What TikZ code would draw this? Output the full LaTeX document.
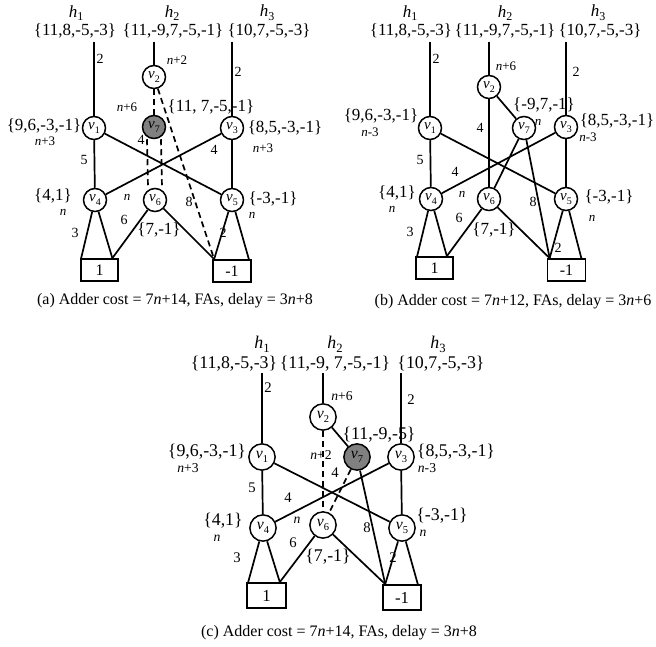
\documentclass[tikz,border=0pt]{standalone}
\usepackage{fontspec}
\setmainfont{Liberation Serif}
\definecolor{vgray}{RGB}{128,128,128}
\newcommand\vsub[1]{\textit{v}\raisebox{-0.22em}{\fontsize{10}{10}\selectfont #1}}
\newcommand\hsub[1]{\textit{h}\raisebox{-0.22em}{\fontsize{12}{12}\selectfont #1}}
\newcommand\nn{\textit{n}}
\tikzset{
 vnode/.style={circle, draw, line width=1.5pt, minimum size=23pt, inner sep=0pt, fill=white, font=\fontsize{15}{15}\selectfont},
 gnode/.style={vnode, fill=vgray},
 termbox/.style={rectangle, draw, line width=1.7pt, minimum width=37pt, minimum height=22pt, inner sep=0pt, font=\fontsize{16}{16}\selectfont},
 ln/.style={line width=1.7pt},
 dl/.style={line width=1.7pt, dash pattern=on 6pt off 4pt},
 setl/.style={inner sep=0pt, font=\fontsize{17}{17}\selectfont},
 hl/.style={inner sep=0pt, font=\fontsize{17}{17}\selectfont},
 num/.style={inner sep=0pt, font=\fontsize{14}{14}\selectfont},
 nl/.style={inner sep=0pt, font=\fontsize{13}{13}\selectfont},
 capt/.style={inner sep=0pt, font=\fontsize{16}{16}\selectfont},
}
\begin{document}
\begin{tikzpicture}[x=1pt,y=-1pt]
\useasboundingbox (0,0) rectangle (656,647);

% ================= panel (a) =================
\node[hl] (a-h1) at (76,13) {\hsub{1}};
\node[hl] (a-h2) at (172,13) {\hsub{2}};
\node[hl] (a-h3) at (267,13) {\hsub{3}};
\node[setl] (a-s1) at (75,31) {\{11,8,-5,-3\}};
\node[setl] (a-s2) at (173,31) {\{11,-9,7,-5,-1\}};
\node[setl] (a-s3) at (269,31) {\{10,7,-5,-3\}};
\coordinate (a-t1) at (94,42);
\coordinate (a-t2) at (154,42);
\coordinate (a-t3) at (232,42);
\node[vnode] (a-v1) at (94,128) {\vsub{1}};
\node[vnode] (a-v2) at (154,77) {\vsub{2}};
\node[gnode] (a-v7) at (154,127) {\vsub{7}};
\node[vnode] (a-v3) at (232,128) {\vsub{3}};
\node[vnode] (a-v4) at (95,200) {\vsub{4}};
\node[vnode] (a-v6) at (155,200) {\vsub{6}};
\node[vnode] (a-v5) at (232,200) {\vsub{5}};
\node[termbox] (a-b1) at (99.5,270) {1};
\node[termbox, minimum width=38pt] (a-bm) at (232,271) {-1};
\coordinate (a-b1l) at ([xshift=1pt]a-b1.north west);
\coordinate (a-b1r) at ([xshift=-6.5pt]a-b1.north east);
\coordinate (a-bml) at ([xshift=2pt]a-bm.north west);
\coordinate (a-bmr) at ([xshift=-3pt]a-bm.north east);
\draw[ln] (a-t1) -- (a-v1);
\draw[ln] (a-t2) -- (a-v2);
\draw[ln] (a-t3) -- (a-v3);
\draw[ln] (a-v1) -- (a-v4);
\draw[ln] (a-v3) -- (a-v5);
\draw[ln] (a-v1) -- (a-v5);
\draw[ln] (a-v3) -- (a-v4);
\draw[ln] (a-v4) -- (a-b1l);
\draw[ln] (a-v4) -- (a-b1r);
\draw[ln] (a-v6) -- (a-b1r);
\draw[ln] (a-v6) -- (a-bml);
\draw[ln] (a-v5) -- (a-bml);
\draw[ln] (a-v5) -- (a-bmr);
\draw[dl] (a-v2) -- (a-v7);
\draw[dl] (a-v2) -- (a-bml);
\draw[dl] ([xshift=-7pt]a-v7.south) -- ([xshift=-7pt]a-v6.north);
\draw[dl] ([xshift=7pt]a-v7.south) -- ([xshift=7pt]a-v6.north);
\node[num] (a-l1) at (100,59) {2};
\node[nl] (a-l2) at (177,60) {\nn+2};
\node[num] (a-l3) at (238,72) {2};
\node[nl] (a-l4) at (127,107) {\nn+6};
\node[setl] (a-l5) at (211,107) {\{11, 7,-5,-1\}};
\node[setl] (a-l6) at (44,126) {\{9,6,-3,-1\}};
\node[nl] (a-l7) at (45,141) {\nn+3};
\node[setl] (a-l8) at (285,128) {\{8,5,-3,-1\}};
\node[nl] (a-l9) at (263,148) {\nn+3};
\node[num] (a-l10) at (141,140) {4};
\node[num] (a-l11) at (214,150) {4};
\node[num] (a-l12) at (84,160) {5};
\node[nl] (a-l13) at (127,197) {\nn};
\node[num] (a-l14) at (189,202) {8};
\node[setl] (a-l15) at (53,196) {\{4,1\}};
\node[nl] (a-l16) at (63,212) {\nn};
\node[setl] (a-l17) at (273,199) {\{-3,-1\}};
\node[nl] (a-l18) at (252,215) {\nn};
\node[num] (a-l19) at (124,220) {6};
\node[setl] (a-l20) at (159,230) {\{7,-1\}};
\node[num] (a-l21) at (75,233) {3};
\node[num] (a-l22) at (223,233) {2};
\node[capt] (a-cap) at (175,301) {(a) Adder cost = 7\nn+14, FAs, delay = 3\nn+8};

% ================= panel (b) =================
\node[hl] (b-h1) at (410,13) {\hsub{1}};
\node[hl] (b-h2) at (505,13) {\hsub{2}};
\node[hl] (b-h3) at (598,13) {\hsub{3}};
\node[setl] (b-s1) at (411,31) {\{11,8,-5,-3\}};
\node[setl] (b-s2) at (505,31) {\{11,-9,7,-5,-1\}};
\node[setl] (b-s3) at (600,31) {\{10,7,-5,-3\}};
\coordinate (b-t1) at (430,42);
\coordinate (b-t2) at (489,42);
\coordinate (b-t3) at (566,42);
\node[vnode] (b-v1) at (430,128) {\vsub{1}};
\node[vnode] (b-v2) at (489,87) {\vsub{2}};
\node[vnode] (b-v7) at (524,128) {\vsub{7}};
\node[vnode] (b-v3) at (566,127) {\vsub{3}};
\node[vnode] (b-v4) at (431,199) {\vsub{4}};
\node[vnode] (b-v6) at (489,199) {\vsub{6}};
\node[vnode] (b-v5) at (566,199) {\vsub{5}};
\node[termbox] (b-b1) at (434.5,268) {1};
\node[termbox, minimum width=38pt] (b-bm) at (566.5,270) {-1};
\coordinate (b-b1l) at ([xshift=2pt]b-b1.north west);
\coordinate (b-b1r) at ([xshift=-7pt]b-b1.north east);
\coordinate (b-bml) at ([xshift=3pt]b-bm.north west);
\coordinate (b-bmr) at ([xshift=-5pt]b-bm.north east);
\draw[ln] (b-t1) -- (b-v1);
\draw[ln] (b-t2) -- (b-v2);
\draw[ln] (b-t3) -- (b-v3);
\draw[ln] (b-v2) -- (b-v6);
\draw[ln] (b-v2) -- (b-v7);
\draw[ln] (b-v7) -- (b-v6);
\draw[ln] (b-v7) -- (b-bml);
\draw[ln] (b-v1) -- (b-v4);
\draw[ln] (b-v3) -- (b-v5);
\draw[ln] (b-v1) -- (b-v5);
\draw[ln] (b-v3) -- (b-v4);
\draw[ln] (b-v4) -- (b-b1l);
\draw[ln] (b-v4) -- (b-b1r);
\draw[ln] (b-v6) -- (b-b1r);
\draw[ln] (b-v6) -- (b-bml);
\draw[ln] (b-v5) -- (b-bml);
\draw[ln] (b-v5) -- (b-bmr);
\node[num] (b-l1) at (436,59) {2};
\node[nl] (b-l2) at (506,66) {\nn+6};
\node[num] (b-l3) at (576,72) {2};
\node[setl] (b-l4) at (544,105) {\{-9,7,-1\}};
\node[nl] (b-l5) at (538,122) {\nn};
\node[setl] (b-l6) at (381,116) {\{9,6,-3,-1\}};
\node[nl] (b-l7) at (370,132) {\nn-3};
\node[setl] (b-l8) at (617,121) {\{8,5,-3,-1\}};
\node[nl] (b-l9) at (588,137) {\nn-3};
\node[num] (b-l10) at (480,128) {4};
\node[num] (b-l11) at (420,160) {5};
\node[num] (b-l12) at (455,172) {4};
\node[nl] (b-l13) at (462,194) {\nn};
\node[num] (b-l14) at (533,202) {8};
\node[setl] (b-l15) at (397,193) {\{4,1\}};
\node[nl] (b-l16) at (392,209) {\nn};
\node[setl] (b-l17) at (609,197) {\{-3,-1\}};
\node[nl] (b-l18) at (592,218) {\nn};
\node[num] (b-l19) at (459,218) {6};
\node[setl] (b-l20) at (494,230) {\{7,-1\}};
\node[num] (b-l21) at (410,232) {3};
\node[num] (b-l22) at (558,248) {2};
\node[capt] (b-cap) at (513,302) {(b) Adder cost = 7\nn+12, FAs, delay = 3\nn+6};

% ================= panel (c) =================
\begin{scope}[every node/.append style={scale=1.05}]
\node[hl] (c-h1) at (262,344) {\hsub{1}};
\node[hl] (c-h2) at (335,344) {\hsub{2}};
\node[hl] (c-h3) at (438,344) {\hsub{3}};
\node[setl] (c-s1) at (234,364) {\{11,8,-5,-3\}};
\node[setl] (c-s2) at (335,364) {\{11,-9, 7,-5,-1\}};
\node[setl] (c-s3) at (441,364) {\{10,7,-5,-3\}};
\coordinate (c-t1) at (262,373);
\coordinate (c-t2) at (323,373);
\coordinate (c-t3) at (401,373);
\node[vnode, minimum size=25pt] (c-v1) at (262,457) {\vsub{1}};
\node[vnode, minimum size=25pt] (c-v2) at (323,417) {\vsub{2}};
\node[gnode, minimum size=25pt] (c-v7) at (357,457) {\vsub{7}};
\node[vnode, minimum size=25pt] (c-v3) at (401,457) {\vsub{3}};
\node[vnode, minimum size=25pt] (c-v4) at (263,528) {\vsub{4}};
\node[vnode, minimum size=25pt] (c-v6) at (323,525) {\vsub{6}};
\node[vnode, minimum size=25pt] (c-v5) at (402,528) {\vsub{5}};
\node[termbox, minimum width=37pt, minimum height=23.8pt] (c-b1) at (266.5,595.5) {1};
\node[termbox, minimum width=36pt, minimum height=23.8pt] (c-bm) at (402,597.5) {-1};
\coordinate (c-b1l) at ([xshift=2pt]c-b1.north west);
\coordinate (c-b1r) at ([xshift=-7pt]c-b1.north east);
\coordinate (c-bml) at ([xshift=3pt]c-bm.north west);
\coordinate (c-bmr) at ([xshift=-4pt]c-bm.north east);
\draw[ln] (c-t1) -- (c-v1);
\draw[ln] (c-t2) -- (c-v2);
\draw[ln] (c-t3) -- (c-v3);
\draw[ln] (c-v2) -- (c-v7);
\draw[ln] (c-v7) -- (c-bml);
\draw[ln] (c-v1) -- (c-v4);
\draw[ln] (c-v3) -- (c-v5);
\draw[ln] (c-v1) -- (c-v5);
\draw[ln] (c-v3) -- (c-v4);
\draw[ln] (c-v4) -- (c-b1l);
\draw[ln] (c-v4) -- (c-b1r);
\draw[ln] (c-v6) -- (c-b1r);
\draw[ln] (c-v6) -- (c-bml);
\draw[ln] (c-v5) -- (c-bml);
\draw[ln] (c-v5) -- (c-bmr);
\draw[dl] (c-v2) -- (c-v6);
\draw[dl] (c-v7) -- (c-v6);
\node[num] (c-l1) at (268,388) {2};
\node[nl] (c-l2) at (342,396) {\nn+6};
\node[num] (c-l3) at (411,400) {2};
\node[setl] (c-l4) at (379,435) {\{11,-9,-5\}};
\node[nl] (c-l5) at (321,455) {\nn+2};
\node[num] (c-l6) at (335,473) {4};
\node[setl] (c-l7) at (207,452) {\{9,6,-3,-1\}};
\node[nl] (c-l8) at (188,468) {\nn+3};
\node[setl] (c-l9) at (456,452) {\{8,5,-3,-1\}};
\node[nl] (c-l10) at (427,468) {\nn-3};
\node[num] (c-l11) at (252,488) {5};
\node[num] (c-l12) at (288,498) {4};
\node[nl] (c-l13) at (297,520) {\nn};
\node[num] (c-l14) at (367,528) {8};
\node[setl] (c-l15) at (223,521) {\{4,1\}};
\node[nl] (c-l16) at (217,538) {\nn};
\node[setl] (c-l17) at (442,516) {\{-3,-1\}};
\node[nl] (c-l18) at (423,533) {\nn};
\node[num] (c-l19) at (293,543) {6};
\node[setl] (c-l20) at (328,557) {\{7,-1\}};
\node[num] (c-l21) at (237,558) {3};
\node[num] (c-l22) at (393,558) {2};
\end{scope}
\node[capt] (c-cap) at (339,633) {(c) Adder cost = 7\nn+14, FAs, delay = 3\nn+8};
\end{tikzpicture}
\end{document}
